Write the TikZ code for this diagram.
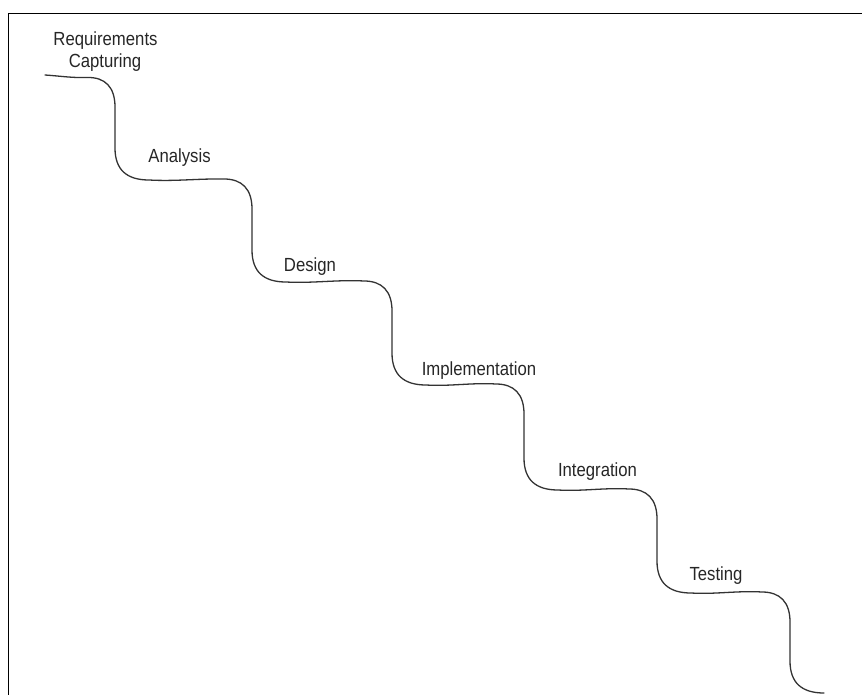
\documentclass[tikz,border=0pt]{standalone}
\usepackage{fontspec}
\setmainfont{Liberation Sans}[FakeStretch=0.88]
\begin{document}
\begin{tikzpicture}[x=1pt,y=-1pt,
  phase/.style={anchor=base,inner sep=0pt,font=\fontsize{19}{22}\selectfont,text=black!85},
  stairs/.style={draw=black!80,line width=1.3pt,line cap=round,line join=round},
  frame/.style={draw=black,line width=1.8pt}]
  \useasboundingbox (0,0) rectangle (862,695);
  \begin{scope}
    \clip (0,0) rectangle (862,695);
    % outer frame (right and bottom edges fall outside the page)
    \draw[frame] (8.5,13.5) rectangle (880,720);

    % the descending staircase of phases
    \coordinate (s0) at (45,75);
    \coordinate (e6) at (824,693);
    \draw[stairs] (s0)
      .. controls (60,76) and (72,78) .. (87,77.5)
      .. controls (105,77) and (115,87) .. (115,107) -- (115,148)
      .. controls (115,170) and (127,180) .. (149,180)
      .. controls (175,181.5) and (199,178.5) .. (224,179)
      .. controls (242,179) and (252,189) .. (252,209) -- (252,250)
      .. controls (252,272) and (264,282) .. (286,282)
      .. controls (312,283.5) and (338,279.5) .. (364,281)
      .. controls (382,281) and (392,291) .. (392,311) -- (392,353)
      .. controls (392,375) and (404,385) .. (426,385)
      .. controls (450,386.5) and (472,382.5) .. (496,384)
      .. controls (514,384) and (524,394) .. (524,414) -- (524,458)
      .. controls (524,480) and (536,490) .. (558,490)
      .. controls (582,491.5) and (605,487.5) .. (629,489)
      .. controls (647,489) and (657,499) .. (657,519) -- (657,561)
      .. controls (657,583) and (669,593) .. (691,593)
      .. controls (715,594.5) and (738,590.5) .. (762,592)
      .. controls (780,592) and (790,602) .. (790,622) -- (790,661)
      .. controls (790,683) and (802,693) .. (e6);
  \end{scope}

  % phase labels
  \node[phase] (req) at (105.5,46) {Requirements};
  \node[phase] (cap) at (105,68) {Capturing};
  \node[phase] (ana) at (179.5,163) {Analysis};
  \node[phase] (des) at (310,271) {Design};
  \node[phase] (imp) at (479,375) {Implementation};
  \node[phase] (int) at (597.5,476) {Integration};
  \node[phase] (tst) at (716,580) {Testing};
\end{tikzpicture}
\end{document}
